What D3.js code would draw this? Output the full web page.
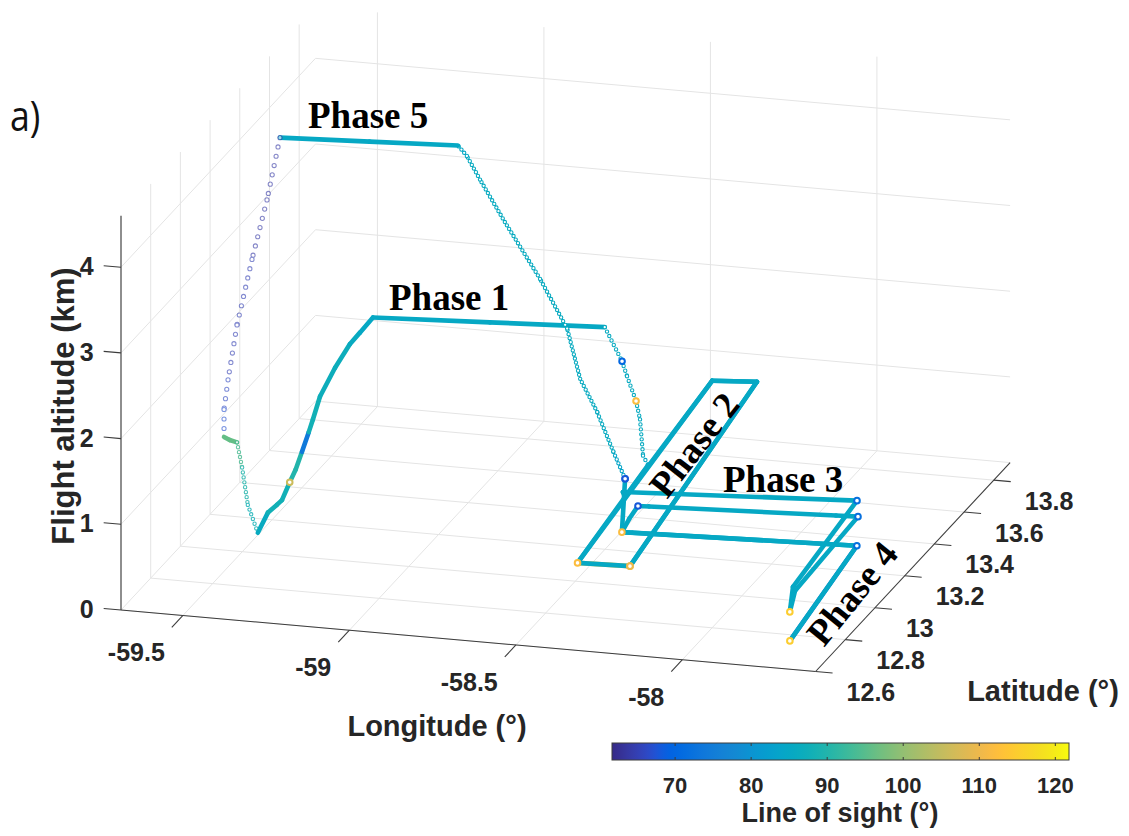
<!DOCTYPE html>
<html><head><meta charset="utf-8">
<script src="https://cdn.jsdelivr.net/npm/d3@7"></script>
<style>body{margin:0;background:#fff}svg{display:block}</style>
</head><body><svg id="c" width="1129" height="836"></svg>
<script>
// ---------- axis limits & ticks ----------
const lonLim = [-59.686, -57.6];
const latLim = [12.6, 13.91];
const altLim = [0, 4.6];
const lonTicks = [-59.5, -59, -58.5, -58];
const latTicks = [12.6, 12.8, 13, 13.2, 13.4, 13.6, 13.8];
const altTicks = [0, 1, 2, 3, 4];
const losLim = [61.7, 121.8];
const losTicks = [70, 80, 90, 100, 110, 120];

// ---------- flight track: [lon, lat, alt(km), line of sight(deg)] ----------
const phase1Climb = [
 [-59.495,13.093,0.05,86],[-59.466,13.097,0.29,88],[-59.441,13.100,0.38,88],
 [-59.426,13.101,0.44,88],[-59.404,13.104,0.65,106],[-59.387,13.106,0.80,90],
 [-59.369,13.108,1.01,74],[-59.350,13.111,1.24,74],[-59.338,13.112,1.39,88],
 [-59.318,13.115,1.66,88],[-59.275,13.120,2.00,87],[-59.233,13.125,2.28,87],
 [-59.204,13.128,2.42,86],[-59.167,13.133,2.60,85]];
const phase1Leg = [[-59.167,13.133,2.60,85],[-58.83,13.165,2.60,85],[-58.499,13.196,2.60,86]];
const phase1Descent = [
 [-58.499,13.196,2.60,86],[-58.447,13.196,2.22,70],[-58.432,13.196,2.05,86],
 [-58.405,13.196,1.77,112],[-58.393,13.196,1.56,86],[-58.384,13.196,1.14,86],
 [-58.421,13.313,0.80,85]];
const phase2 = [
 [-58.421,13.313,0.80,85],[-58.364,12.710,0.80,112],[-58.210,12.718,0.80,112],
 [-58.334,13.851,0.80,85],[-58.461,13.834,0.80,97],[-58.364,12.710,0.80,85],
 [-58.210,12.718,0.80,110],[-58.334,13.851,0.80,85],[-58.461,13.834,0.80,85],
 [-58.402,13.115,0.80,85]];
const phase34 = [
 [-58.402,13.115,0.80,85],[-58.532,13.392,0.30,85],[-57.860,13.462,0.30,72],
 [-57.815,12.930,0.30,85],[-57.759,12.783,0.30,115],[-57.799,12.908,0.30,85],
 [-57.816,13.370,0.30,72],[-57.880,13.365,0.30,85],[-58.422,13.322,0.30,85],
 [-58.454,13.319,0.30,68],[-58.445,13.240,0.30,85],[-58.431,13.159,0.30,112],
 [-58.400,13.161,0.30,85],[-57.744,13.201,0.30,72],[-57.684,12.615,0.30,115],
 [-57.744,13.201,0.30,85],[-58.431,13.159,0.30,85],[-58.560,13.470,0.30,68]];
const phase5Climb = [
 [-58.560,13.470,0.30,68],[-58.588,13.453,0.64,84],[-58.626,13.430,1.13,86],
 [-58.666,13.405,1.55,86],[-58.697,13.387,2.16,86],[-58.761,13.348,2.79,86],
 [-58.844,13.297,3.52,86],[-58.903,13.262,4.06,86],[-58.934,13.243,4.36,86],
 [-58.955,13.230,4.50,85]];
const phase5Leg = [[-58.955,13.230,4.50,85],[-59.210,13.207,4.50,85],[-59.469,13.184,4.50,85]];
const phase5Descent = [
 [-59.469,13.184,4.50,64],[-59.508,13.184,3.76,64],[-59.553,13.184,3.05,64],
 [-59.598,13.184,2.27,65],[-59.625,13.184,1.62,65],[-59.637,13.184,1.27,66],
 [-59.637,13.184,0.95,67]];
const phase5Level = [[-59.637,13.184,0.95,96],[-59.620,13.184,0.92,96],[-59.598,13.184,0.90,96]];
const landing = [
 [-59.598,13.184,0.90,95],[-59.572,13.160,0.66,94],[-59.537,13.120,0.31,90],
 [-59.495,13.093,0.05,88]];

const parula = ["#352a87","#363093","#3637a0","#353dad","#3243ba","#2c4ac7","#2053d4","#0f5cdd","#0363e1","#0268e1","#046de0","#0871de","#0d75dc","#1079da","#127dd8","#1481d6","#1485d4","#1389d3","#108ed2","#0c93d2","#0998d1","#079ccf","#06a0cd","#06a4ca","#06a7c6","#07a9c2","#0aacbe","#0faeb9","#15b1b4","#1db3af","#25b5a9","#2eb7a4","#38b99e","#42bb98","#4dbc92","#59bd8c","#65be86","#71bf80","#7cbf7b","#87bf77","#92bf73","#9cbf6f","#a5be6b","#aebe67","#b7bd64","#c0bc60","#c8bc5d","#d1bb59","#d9ba56","#e1b952","#e9b94e","#f1b94a","#f8bb44","#fdbe3d","#ffc337","#fec832","#fcce2e","#fad32a","#f7d826","#f5de21","#f5e41d","#f5eb18","#f6f313","#f9fb0e"];

// ---------- projection (orthographic 3-D box) ----------
const svg = d3.select('#c');
const origin = [121, 610];
const edgeLon = [694.6, 61.5], edgeLat = [194.5, -208.9], edgeAlt = [0, -394.2];
const u = d3.scaleLinear().domain(lonLim).range([0, 1]);
const v = d3.scaleLinear().domain(latLim).range([0, 1]);
const w = d3.scaleLinear().domain(altLim).range([0, 1]);
function P(lon, lat, alt) {
  const a = u(lon), b = v(lat), c = w(alt);
  return [origin[0] + a*edgeLon[0] + b*edgeLat[0] + c*edgeAlt[0],
          origin[1] + a*edgeLon[1] + b*edgeLat[1] + c*edgeAlt[1]];
}
const color = d3.scaleLinear()
  .domain(parula.map((_, i) => losLim[0] + i*(losLim[1]-losLim[0])/(parula.length-1)))
  .range(parula).clamp(true);

const FONT = "'Liberation Sans', Arial, Helvetica, sans-serif";
const TXT = '#262626';
const line = d3.line();

// ---------- grid ----------
const grid = svg.append('g').attr('stroke', '#e4e4e4').attr('stroke-width', 1).attr('fill', 'none');
function seg(g, a, b) { g.append('path').attr('d', line([a, b])); }
const [lo0, lo1] = lonLim, [la0, la1] = latLim, [al0, al1] = altLim;
lonTicks.forEach(t => { seg(grid, P(t, la0, 0), P(t, la1, 0)); seg(grid, P(t, la1, 0), P(t, la1, al1)); });
latTicks.forEach(t => { seg(grid, P(lo0, t, 0), P(lo1, t, 0)); seg(grid, P(lo0, t, 0), P(lo0, t, al1)); });
altTicks.forEach(t => { seg(grid, P(lo0, la0, t), P(lo0, la1, t)); seg(grid, P(lo0, la1, t), P(lo1, la1, t)); });

// ---------- axes ----------
const ax = svg.append('g').attr('stroke', '#3c3c3c').attr('stroke-width', 1.1).attr('fill', 'none');
seg(ax, P(lo0, la0, 0), P(lo0, la0, al1));
seg(ax, P(lo0, la0, 0), P(lo1, la0, 0));
seg(ax, P(lo1, la0, 0), P(lo1, la1, 0));
const tl = svg.append('g').attr('font-family', FONT).attr('font-weight', 'bold').attr('fill', TXT).attr('font-size', 25);
altTicks.forEach(t => {
  const a = P(lo0, la0, t), b = P(lo0 - 0.052, la0, t);
  seg(ax, a, b);
  tl.append('text').attr('x', b[0] - 10).attr('y', b[1] + 9.5).attr('text-anchor', 'end').text(t);
});
lonTicks.forEach(t => {
  const a = P(t, la0, 0), b = P(t, la0 - 0.075, 0);
  seg(ax, a, b);
  tl.append('text').attr('x', b[0] - 7).attr('y', b[1] + 34).attr('text-anchor', 'end').text(t);
});
latTicks.forEach(t => {
  const a = P(lo1, t, 0), b = P(lo1 + 0.051, t, 0);
  seg(ax, a, b);
  tl.append('text').attr('x', b[0] + 14).attr('y', b[1] + 28).attr('text-anchor', 'start').text(t);
});
const al = svg.append('g').attr('font-family', FONT).attr('font-weight', 'bold').attr('fill', TXT).attr('font-size', 29);
al.append('text').attr('x', 437).attr('y', 736).attr('text-anchor', 'middle').text('Longitude (°)');
al.append('text').attr('x', 1043).attr('y', 701).attr('text-anchor', 'middle').text('Latitude (°)');
al.append('text').attr('transform', 'translate(74,406) rotate(-90)').attr('text-anchor', 'middle')
  .attr('font-size', 31).text('Flight altitude (km)');

// ---------- flight track ----------
const trk = svg.append('g').attr('fill', 'none').attr('stroke-linecap', 'round').attr('stroke-linejoin', 'round');
function segColor(a, b) { return Math.abs(a - 85) < Math.abs(b - 85) ? a : b; }
function drawTrack(pts, opt) {
  const g = trk.append('g').attr('opacity', opt.opacity || 1);
  const ow = opt.ring || 4.4, iw = ow - 2.1;
  for (let i = 0; i < pts.length - 1; i++) {
    const a = P(pts[i][0], pts[i][1], pts[i][2]), b = P(pts[i+1][0], pts[i+1][1], pts[i+1][2]);
    const c = color(segColor(pts[i][3], pts[i+1][3]));
    if (opt.gap) {
      g.append('path').attr('d', line([a, b])).attr('stroke', c).attr('stroke-width', ow)
        .attr('stroke-dasharray', `0 ${opt.gap}`);
      g.append('path').attr('d', line([a, b])).attr('stroke', '#fff').attr('stroke-width', iw)
        .attr('stroke-dasharray', `0 ${opt.gap}`);
    } else {
      g.append('path').attr('d', line([a, b])).attr('stroke', c).attr('stroke-width', 4.6);
    }
  }
  if (opt.marks) pts.forEach(p => {
    if (Math.abs(p[3] - 85) > 12) {
      const q = P(p[0], p[1], p[2]);
      g.append('circle').attr('cx', q[0]).attr('cy', q[1]).attr('r', 2.8)
        .attr('stroke', color(p[3])).attr('stroke-width', 2).attr('fill', '#fff');
    }
  });
}
drawTrack(phase1Climb, {marks: true});
drawTrack(phase1Leg, {});
drawTrack(phase1Descent, {gap: 5, marks: true});
drawTrack(phase2, {marks: true});
drawTrack(phase34, {marks: true});
drawTrack(phase5Climb, {gap: 4.2, marks: true});
drawTrack(phase5Leg, {});
drawTrack(phase5Descent, {gap: 9.5, ring: 5.2, opacity: 0.6});
drawTrack(phase5Level, {});
drawTrack(landing, {gap: 5, opacity: 0.85});

// ---------- annotations ----------
const ph = svg.append('g').attr('font-family', "'Liberation Serif', 'Times New Roman', serif")
  .attr('font-weight', 'bold').attr('font-size', 37).attr('fill', '#000');
ph.append('text').attr('x', 308).attr('y', 128).text('Phase 5');
ph.append('text').attr('x', 389).attr('y', 310).text('Phase 1');
ph.append('text').attr('x', 723).attr('y', 492).text('Phase 3');
ph.append('text').attr('transform', 'translate(667,500) rotate(-52)').text('Phase 2');
ph.append('text').attr('transform', 'translate(824,648) rotate(-51)').text('Phase 4');
svg.append('text').attr('transform', 'translate(10,131) scale(0.85,1)').attr('font-family', "'Open Sans', sans-serif")
  .attr('font-size', 42).attr('fill', '#111').text('a)');

// ---------- colorbar ----------
const cb = d3.scaleLinear().domain(losLim).range([612, 1069]);
const defs = svg.append('defs');
const grad = defs.append('linearGradient').attr('id', 'par');
parula.forEach((c, i) => grad.append('stop').attr('offset', (i/(parula.length-1)*100) + '%').attr('stop-color', c));
svg.append('rect').attr('x', cb.range()[0]).attr('y', 743).attr('width', cb.range()[1]-cb.range()[0]).attr('height', 17)
  .attr('fill', 'url(#par)').attr('stroke', '#3c3c3c').attr('stroke-width', 1);
const cbt = svg.append('g').attr('font-family', FONT).attr('font-weight', 'bold').attr('fill', TXT).attr('font-size', 22);
losTicks.forEach(t => {
  const x = cb(t);
  svg.append('path').attr('d', line([[x, 743], [x, 746]])).attr('stroke', '#3c3c3c');
  svg.append('path').attr('d', line([[x, 757], [x, 760]])).attr('stroke', '#3c3c3c');
  cbt.append('text').attr('x', x).attr('y', 793).attr('text-anchor', 'middle').text(t);
});
svg.append('text').attr('x', 840).attr('y', 822).attr('text-anchor', 'middle').attr('font-family', FONT)
  .attr('font-weight', 'bold').attr('font-size', 27).attr('fill', TXT).text('Line of sight (°)');
</script></body></html>
